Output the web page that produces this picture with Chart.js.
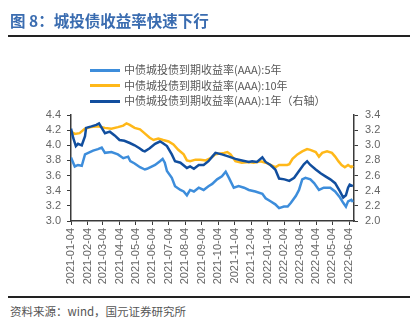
<!DOCTYPE html>
<html>
<head>
<meta charset="utf-8">
<script src="https://cdn.jsdelivr.net/npm/chart.js@4"></script>
<style>
  body { margin: 0; background: #fff; font-family: "Noto Sans CJK SC", "Liberation Sans", sans-serif; }
  #wrap { position: relative; width: 418px; height: 322px; overflow: hidden; }
  #title { position: absolute; left: 10px; top: 10px; font-size: 15.5px; font-weight: bold; color: #3a6cb0; line-height: 20px; }
  .rule { position: absolute; left: 8px; width: 402px; height: 2px; background: #222; }
  #footer { position: absolute; left: 10px; top: 303px; font-size: 11.5px; color: #555; line-height: 16px; }
  #legend { position: absolute; left: 90px; top: 62px; font-size: 11px; color: #595959; }
  .item { height: 15.5px; line-height: 15.5px; white-space: nowrap; }
  .sw { display: inline-block; width: 30px; height: 3px; vertical-align: middle; margin-right: 4px; position: relative; top: -1px; }
  #cv { position: absolute; left: 0; top: 0; }
</style>
</head>
<body>
<div id="wrap">
  <canvas id="cv" width="418" height="296"></canvas>
  <div id="title">图 8：城投债收益率快速下行</div>
  <div class="rule" style="top:35px"></div>
  <div id="legend"></div>
  <div class="rule" style="top:296px"></div>
  <div id="footer">资料来源：wind，国元证券研究所</div>
</div>
<script>
// days counted from 2021-01-04
var tickDays = [0, 31, 59, 90, 120, 151, 181, 212, 243, 273, 304, 334, 365, 396, 424, 455, 485, 516];
var tickLabels = ['2021-01-04', '2021-02-04', '2021-03-04', '2021-04-04', '2021-05-04', '2021-06-04',
    '2021-07-04', '2021-08-04', '2021-09-04', '2021-10-04', '2021-11-04', '2021-12-04',
    '2022-01-04', '2022-02-04', '2022-03-04', '2022-04-04', '2022-05-04', '2022-06-04'];

var names = ['中债城投债到期收益率(AAA):5年', '中债城投债到期收益率(AAA):10年', '中债城投债到期收益率(AAA):1年（右轴）'];
var colors = ['#3d8ddb', '#ffb819', '#114e9e'];

var days5y = [0, 7, 13, 20, 26, 32, 41, 50, 57, 63, 75, 87, 97, 106, 110, 118, 128, 137, 141, 156, 165, 170, 174, 178,
    187, 193, 203, 209, 215, 221, 228, 237, 246, 255, 262, 271, 280, 287, 293, 302, 311, 321, 330, 342, 355, 361,
    370, 379, 386, 395, 402, 408, 417, 423, 429, 435, 444, 451, 460, 469, 481, 490, 499, 505, 510, 514, 520, 523];
var rate5y = [3.84, 3.72, 3.74, 3.73, 3.88, 3.90, 3.93, 3.95, 3.97, 3.90, 3.91, 3.88, 3.83, 3.85, 3.79, 3.76, 3.71,
    3.68, 3.69, 3.74, 3.79, 3.82, 3.77, 3.66, 3.57, 3.46, 3.41, 3.39, 3.34, 3.41, 3.39, 3.44, 3.41, 3.46, 3.49,
    3.55, 3.59, 3.65, 3.57, 3.44, 3.46, 3.44, 3.41, 3.39, 3.36, 3.30, 3.26, 3.22, 3.17, 3.19, 3.19, 3.24, 3.33,
    3.41, 3.55, 3.57, 3.55, 3.50, 3.41, 3.44, 3.44, 3.39, 3.31, 3.24, 3.19, 3.26, 3.28, 3.25];

var days10y = [0, 7, 16, 26, 37, 50, 63, 75, 87, 97, 103, 109, 118, 128, 133, 146, 153, 162, 171, 181, 190, 199, 209,
    215, 221, 231, 240, 250, 259, 268, 284, 290, 296, 305, 317, 330, 339, 352, 361, 370, 379, 386, 395, 401, 405,
    411, 420, 429, 438, 444, 454, 460, 466, 475, 484, 490, 496, 502, 508, 514, 520, 523];
var rate10y = [4.18, 4.15, 4.16, 4.22, 4.24, 4.25, 4.23, 4.22, 4.24, 4.26, 4.29, 4.27, 4.23, 4.21, 4.18, 4.10, 4.07,
    4.09, 4.07, 4.05, 4.01, 3.94, 3.88, 3.80, 3.79, 3.81, 3.81, 3.80, 3.83, 3.88, 3.90, 3.91, 3.88, 3.79, 3.77,
    3.78, 3.77, 3.79, 3.77, 3.74, 3.71, 3.74, 3.74, 3.74, 3.75, 3.82, 3.88, 3.92, 3.95, 3.94, 3.91, 3.85, 3.90,
    3.92, 3.90, 3.85, 3.79, 3.74, 3.71, 3.74, 3.71, 3.73];

var days1y = [0, 4, 9, 13, 20, 26, 28, 38, 47, 52, 57, 63, 72, 81, 90, 99, 109, 118, 127, 133, 137, 146, 156, 165, 170,
    178, 187, 193, 203, 215, 221, 228, 237, 246, 255, 262, 268, 280, 293, 305, 317, 330, 336, 345, 355, 361, 370,
    379, 386, 396, 405, 414, 423, 432, 438, 444, 454, 463, 472, 481, 490, 499, 505, 510, 514, 517, 523];
var rate1y = [3.22, 3.10, 2.99, 3.02, 3.00, 3.12, 3.23, 3.25, 3.27, 3.29, 3.23, 3.16, 3.18, 3.13, 3.07, 3.06, 3.03,
    3.00, 2.96, 2.93, 2.92, 2.96, 3.02, 3.05, 3.03, 2.99, 2.88, 2.79, 2.77, 2.70, 2.72, 2.69, 2.74, 2.74, 2.79,
    2.85, 2.90, 2.88, 2.85, 2.82, 2.80, 2.78, 2.79, 2.78, 2.84, 2.78, 2.74, 2.68, 2.56, 2.55, 2.53, 2.57, 2.66,
    2.75, 2.79, 2.74, 2.68, 2.63, 2.59, 2.55, 2.50, 2.39, 2.31, 2.34, 2.44, 2.48, 2.46];

function pts(xs, ys) {
    return xs.map(function (x, i) { return { x: x, y: ys[i] }; });
}

// html legend, left aligned like the original
var leg = document.getElementById('legend');
names.forEach(function (n, i) {
    leg.innerHTML += '<div class="item"><span class="sw" style="background:' + colors[i] + '"></span>' + n + '</div>';
});

var axisColor = '#3a3a3a';
var tickFont = { family: '"Liberation Sans", Arial, sans-serif', size: 11 };

var ctx = document.getElementById('cv').getContext('2d');
var chart = new Chart(ctx, {
    type: 'line',
    data: {
        datasets: [
            { label: names[2], data: pts(days1y, rate1y), yAxisID: 'y1', borderColor: colors[2], order: 0 },
            { label: names[1], data: pts(days10y, rate10y), yAxisID: 'y', borderColor: colors[1], order: 1 },
            { label: names[0], data: pts(days5y, rate5y), yAxisID: 'y', borderColor: colors[0], order: 2 }
        ]
    },
    options: {
        responsive: false,
        animation: false,
        layout: { padding: { top: 115, left: 0, right: 0, bottom: 0 } },
        elements: {
            line: { borderWidth: 2.5, tension: 0 },
            point: { radius: 0 }
        },
        plugins: { legend: { display: false }, tooltip: { enabled: false } },
        scales: {
            x: {
                type: 'linear',
                min: 0,
                max: 525,
                afterBuildTicks: function (axis) {
                    axis.ticks = tickDays.map(function (d) { return { value: d }; });
                },
                afterFit: function (scale) { scale.height = 75; },
                ticks: {
                    autoSkip: false,
                    minRotation: 90,
                    maxRotation: 90,
                    padding: 3,
                    color: '#666',
                    font: tickFont,
                    callback: function (v) { return tickLabels[tickDays.indexOf(v)]; }
                },
                grid: { drawOnChartArea: false, drawTicks: true, tickLength: 4, color: axisColor },
                border: { display: true, color: axisColor, width: 1.5 }
            },
            y: {
                position: 'left',
                min: 3.0,
                max: 4.4,
                afterFit: function (scale) { scale.width = 71; },
                ticks: {
                    autoSkip: false,
                    stepSize: 0.2,
                    padding: 6,
                    color: '#666',
                    font: tickFont,
                    callback: function (v) { return v.toFixed(1); }
                },
                grid: { drawOnChartArea: false, drawTicks: true, tickLength: 4, color: axisColor },
                border: { display: true, color: axisColor, width: 1.5 }
            },
            y1: {
                position: 'right',
                min: 2.0,
                max: 3.4,
                afterFit: function (scale) { scale.width = 64; },
                ticks: {
                    autoSkip: false,
                    stepSize: 0.2,
                    padding: 7,
                    color: '#666',
                    font: tickFont,
                    callback: function (v) { return v.toFixed(1); }
                },
                grid: { drawOnChartArea: false, drawTicks: true, tickLength: 4, color: axisColor },
                border: { display: true, color: axisColor, width: 1.5 }
            }
        }
    }
});
</script>
</body>
</html>
